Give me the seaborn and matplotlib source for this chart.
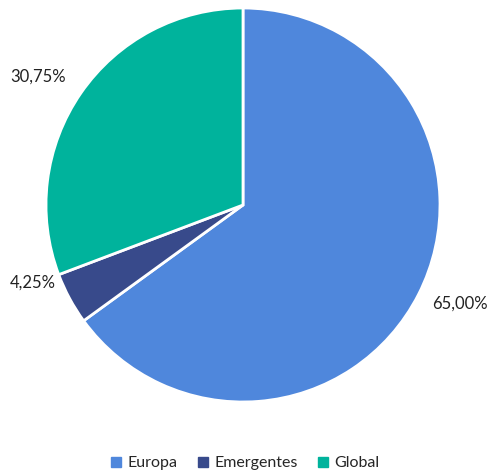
import matplotlib.pyplot as plt
import seaborn as sns
import numpy as np
from matplotlib.lines import Line2D

sns.set_style("white")
plt.rcParams['font.family'] = ['Lato', 'DejaVu Sans']

# Data
categories = ['Europa', 'Emergentes', 'Global']
shares = [65.00, 4.25, 30.75]
colors = sns.color_palette(['#4F87DC', '#384A8B', '#00B39C'])

fig = plt.figure(figsize=(4.88, 4.75), dpi=100)
ax = fig.add_axes([46 / 488, 73 / 475, 394 / 488, 394 / 475])

wedges, texts = ax.pie(shares, colors=colors, startangle=90, counterclock=False,
                       wedgeprops=dict(edgecolor='white', linewidth=2))
ax.set_xlim(-1, 1)
ax.set_ylim(-1, 1)
ax.set_aspect('auto')
ax.axis('off')

# percentage labels outside the pie, Excel style
label_dist = [1.21, 1.14, 1.23]
label_shift = [2.5, -8.0, 2.6]
start = 90.0
for share, d, s in zip(shares, label_dist, label_shift):
    mid = np.deg2rad(start - share * 3.6 / 2 + s)
    start -= share * 3.6
    txt = f"{share:.2f}%".replace('.', ',')
    ax.text(d * np.cos(mid), d * np.sin(mid), txt, ha='center', va='center',
            fontsize=12, color='#222222')

handles = [Line2D([0], [0], marker='s', linestyle='none', markersize=7,
                  markerfacecolor=c, markeredgecolor=c) for c in colors]
fig.legend(handles, categories, loc='center', bbox_to_anchor=(0.5, 1 - 463 / 475),
           ncol=3, frameon=False, fontsize=11.5, handletextpad=0.2, columnspacing=1.1,
           handlelength=1.0)

plt.savefig('out.png', dpi=100)
